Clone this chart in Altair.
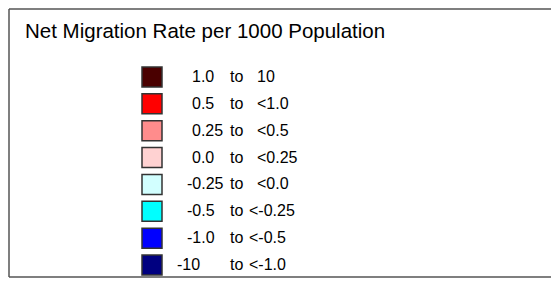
import altair as alt
import pandas as pd

title_text = "Net Migration Rate per 1000 Population"
keys = ["r1", "r2", "r3", "r4", "r5", "r6", "r7", "r8"]
colors = ["#4a0000", "#ff0000", "#ff8c8c", "#ffd2d2", "#d2ffff", "#00ffff", "#0000ff", "#000080"]
lower_labels = ["1.0", "0.5", "0.25", "0.0", "-0.25", "-0.5", "-1.0", "-10"]
to_labels = ["to"] * 8
upper_labels = ["10", "<1.0", "<0.5", "<0.25", "<0.0", "<-0.25", "<-0.5", "<-1.0"]

df = pd.DataFrame({"key": keys, "color": colors, "lower": lower_labels,
                   "to": to_labels, "upper": upper_labels})

W, H = 542, 268
FONT = "Liberation Sans"
yscale = alt.Scale(type="point", domain=keys, range=[68, 256], padding=0)
yenc = alt.Y("key:N", scale=yscale, axis=None)

base = alt.Chart(df)

squares = base.mark_square(size=400, stroke="#333333", strokeWidth=1.5, opacity=1).encode(
    x=alt.value(143),
    y=yenc,
    color=alt.Color("key:N", scale=alt.Scale(domain=keys, range=colors), legend=None),
)

txt_kw = dict(font=FONT, fontSize=16, align="left", baseline="middle", color="black")


def in_keys(ks):
    return alt.FieldOneOfPredicate(field="key", oneOf=ks)


lower_a = base.transform_filter(in_keys(keys[:4])).mark_text(**txt_kw).encode(
    x=alt.value(183), y=yenc, text="lower:N")
lower_b = base.transform_filter(in_keys(keys[4:7])).mark_text(**txt_kw).encode(
    x=alt.value(178), y=yenc, text="lower:N")
lower_c = base.transform_filter(in_keys(keys[7:])).mark_text(**txt_kw).encode(
    x=alt.value(168), y=yenc, text="lower:N")
to = base.mark_text(**txt_kw).encode(x=alt.value(221), y=yenc, text="to:N")
upper_a = base.transform_filter(in_keys(keys[:5])).mark_text(**txt_kw).encode(
    x=alt.value(248), y=yenc, text="upper:N")
upper_b = base.transform_filter(in_keys(keys[5:])).mark_text(**txt_kw).encode(
    x=alt.value(240), y=yenc, text="upper:N")

title = alt.Chart(pd.DataFrame({"t": [title_text]})).mark_text(
    font=FONT, fontSize=20.5, align="left", baseline="alphabetic", color="black"
).encode(x=alt.value(16), y=alt.value(29), text="t:N")

edge = alt.Chart(pd.DataFrame({"e": ["top", "left", "bottom"]}))
rule_kw = dict(color="#555555", strokeWidth=1.5)
top_rule = edge.transform_filter(alt.datum.e == "top").mark_rule(**rule_kw).encode(
    x=alt.value(0), x2=alt.value(W), y=alt.value(0))
bottom_rule = edge.transform_filter(alt.datum.e == "bottom").mark_rule(**rule_kw).encode(
    x=alt.value(0), x2=alt.value(W), y=alt.value(H))
left_rule = edge.transform_filter(alt.datum.e == "left").mark_rule(**rule_kw).encode(
    x=alt.value(0), y=alt.value(0), y2=alt.value(H))

chart = alt.layer(top_rule, bottom_rule, left_rule, squares, lower_a, lower_b, lower_c,
                  to, upper_a, upper_b, title).properties(
    width=W, height=H,
    autosize=alt.AutoSizeParams(type="none"),
    padding={"left": 1, "top": 1, "right": 0, "bottom": 1},
).configure_view(strokeWidth=0)

chart.save("out.html", embed_options={"renderer": "svg", "actions": False})
